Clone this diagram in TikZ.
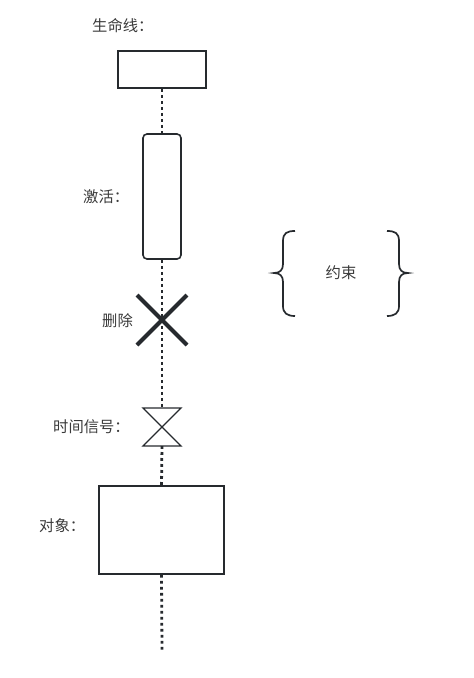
\documentclass[tikz,border=0pt]{standalone}
\usepackage{fontspec}
\setmainfont{Noto Sans CJK SC}
\usetikzlibrary{calc}
\definecolor{ink}{HTML}{262A2E}
\definecolor{txt}{HTML}{3A3A3A}
\tikzset{
  x=1pt, y=-1pt,
  shapeline/.style={draw=ink, line width=1.6pt},
  life/.style={draw=ink, line width=2.8pt, dash pattern=on 2.8pt off 3.2pt},
  lbl/.style={text=txt, font=\fontsize{15.3}{17}\selectfont, inner sep=0pt},
  brace/.style={draw=ink, line width=1.7pt}
}
\begin{document}
\begin{tikzpicture}
\useasboundingbox (0,0) rectangle (474,678);
% nodes
\node[shapeline, minimum width=88pt, minimum height=37pt, inner sep=0pt] (head) at (162,69.5) {};
\node[shapeline, rounded corners=4pt, minimum width=38pt, minimum height=125pt, inner sep=0pt] (act) at (162,196.5) {};
\coordinate (xc) at (162,320);
\coordinate (hgt) at (162,408);
\coordinate (hgb) at (162,446);
\node[shapeline, minimum width=125pt, minimum height=88pt, inner sep=0pt] (obj) at (161.5,530) {};
\coordinate (end) at (162,650);
% lifeline
\draw[life] (head.south) -- (act.north);
\draw[life] (act.south) -- (hgt);
\draw[life] (hgb) -- (obj.north);
\draw[life] (obj.south) -- (end);
% deletion X
\draw[draw=ink, line width=4pt] ($(xc)+(-25,-25)$) -- ($(xc)+(25,25)$);
\draw[draw=ink, line width=4pt] ($(xc)+(25,-25)$) -- ($(xc)+(-25,25)$);
% hourglass
\draw[shapeline, line width=1.4pt, line join=miter] (143,408) -- (181,408) -- (143,446) -- (181,446) -- cycle;
% braces
\draw[brace] (295,231) .. controls (287,231) and (283,233) .. (283,241) -- (283,264)
  .. controls (283,270) and (280,273) .. (274,273)
  .. controls (280,273) and (283,276) .. (283,282) -- (283,306)
  .. controls (283,313) and (287,316) .. (295,316);
\draw[brace] (387,231) .. controls (395,231) and (399,233) .. (399,241) -- (399,264)
  .. controls (399,270) and (402,273) .. (408,273)
  .. controls (402,273) and (399,276) .. (399,282) -- (399,306)
  .. controls (399,313) and (395,316) .. (387,316);
% labels
\node[lbl, anchor=west] (l1) at (92,26) {生命线：};
\node[lbl, anchor=west] (l2) at (83,197) {激活：};
\node[lbl, anchor=west] (l3) at (102,321) {删除};
\node[lbl, anchor=west] (l4) at (53,427) {时间信号：};
\node[lbl, anchor=west] (l5) at (39,526) {对象：};
\node[lbl] (l6) at (341,273) {约束};
\end{tikzpicture}
\end{document}
